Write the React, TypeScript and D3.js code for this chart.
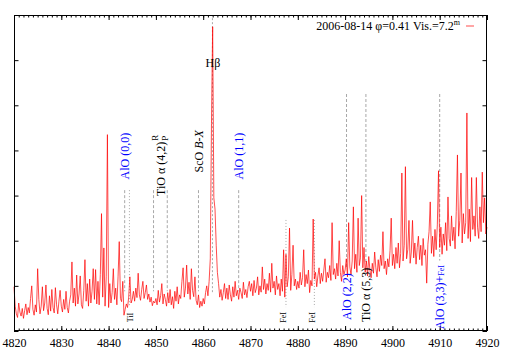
import React, { useEffect, useRef } from 'react';
import * as d3 from 'd3';

// spectrum, one value every 0.25 A from 4820 to 4920
const lambdaStart = 4820;
const lambdaStep = 0.25;
const flux = [
  0.98, 0.55, 0.38, 0.30, 0.62, 0.42, 0.33, 0.50, 0.28, 0.45, 0.60, 0.36, 0.52, 0.40, 0.72, 1.00, 0.48, 0.35, 0.58, 0.42,
  1.38, 0.70, 0.38, 0.55, 0.98, 0.45, 0.62, 1.02, 0.50, 0.36, 0.78, 0.44, 0.92, 0.52, 0.40, 0.96, 0.58, 0.38, 0.66, 0.90,
  0.55, 0.42, 0.70, 0.48, 0.88, 0.52, 0.40, 0.66, 0.80, 1.53, 0.62, 0.95, 0.55, 1.24, 0.60, 0.82, 1.22, 0.58, 0.50, 0.90,
  1.58, 0.66, 1.05, 0.55, 1.15, 0.62, 0.88, 1.38, 0.70, 1.36, 0.60, 1.10, 0.58, 1.25, 2.60, 0.75, 1.84, 0.55, 1.20, 4.35,
  0.52, 1.05, 0.62, 0.85, 1.38, 0.70, 0.95, 0.58, 1.20, 1.98, 0.72, 0.65, 1.10, 0.35, 0.48, 0.60, 0.52, 0.75, 1.20, 0.62,
  0.70, 0.88, 0.66, 0.95, 0.74, 1.28, 0.80, 0.68, 0.92, 1.10, 0.72, 0.85, 1.02, 0.70, 0.82, 0.64, 0.75, 0.56, 0.66, 0.62,
  0.72, 0.58, 0.90, 0.64, 0.78, 1.05, 0.60, 0.82, 0.70, 0.55, 0.85, 0.62, 0.92, 0.58, 0.76, 0.50, 0.88, 0.66, 0.98, 0.60,
  0.80, 0.72, 1.10, 1.40, 0.75, 0.95, 1.46, 0.82, 1.08, 0.70, 1.38, 0.90, 0.76, 1.20, 0.68, 0.58, 0.80, 0.52, 0.66, 0.55,
  0.72, 0.60, 0.85, 1.00, 0.78, 1.10, 1.60, 4.60, 6.74, 2.95, 2.70, 1.90, 1.30, 1.05, 0.75, 0.92, 0.68, 0.85, 1.05, 0.72,
  0.95, 0.70, 1.02, 0.80, 0.66, 0.98, 0.75, 1.10, 0.78, 0.90, 0.70, 0.95, 0.85, 0.72, 1.08, 0.80, 0.92, 0.74, 0.98, 1.10,
  0.88, 1.05, 0.78, 1.12, 0.85, 0.95, 1.20, 0.80, 1.00, 0.86, 1.42, 0.92, 1.15, 0.82, 1.05, 0.90, 1.28, 0.86, 1.50, 0.95,
  1.10, 0.80, 1.22, 0.92, 1.05, 0.78, 1.15, 0.88, 1.80, 0.75, 1.70, 0.98, 1.20, 2.28, 0.90, 1.25, 1.90, 1.00, 1.15, 0.92,
  1.10, 0.95, 1.30, 1.02, 1.18, 1.80, 0.98, 1.25, 1.05, 1.35, 0.85, 1.12, 1.00, 2.48, 1.15, 1.30, 0.98, 1.22, 1.40, 1.05,
  1.28, 1.10, 1.35, 1.60, 1.08, 1.30, 1.18, 1.45, 1.12, 2.40, 1.25, 1.38, 1.15, 1.50, 1.22, 2.00, 1.30, 1.10, 1.45, 1.25,
  1.35, 1.60, 1.20, 2.40, 1.42, 1.25, 1.55, 2.75, 1.38, 1.70, 1.30, 2.50, 1.45, 1.62, 3.00, 1.40, 1.85, 1.30, 1.55, 1.22,
  1.65, 1.35, 1.18, 1.50, 1.28, 1.75, 1.40, 1.20, 1.58, 1.32, 1.68, 1.45, 2.20, 1.38, 1.55, 1.25, 1.60, 1.42, 1.78, 2.50,
  1.45, 1.70, 1.38, 1.85, 1.50, 1.95, 1.40, 1.72, 3.50, 1.55, 1.90, 3.64, 1.60, 1.80, 2.45, 1.50, 1.75, 2.45, 1.62, 1.95,
  1.48, 1.85, 2.10, 1.58, 1.90, 1.45, 2.05, 1.68, 1.80, 1.06, 1.92, 2.20, 2.86, 1.72, 2.10, 1.65, 2.25, 1.80, 2.35, 3.55,
  1.85, 2.30, 1.70, 2.15, 1.90, 2.40, 1.78, 2.97, 2.05, 1.88, 2.55, 2.00, 2.30, 1.82, 2.65, 3.90, 2.10, 2.45, 3.50, 1.95,
  2.60, 2.15, 2.40, 4.83, 2.05, 2.70, 1.98, 3.40, 2.25, 2.55, 2.10, 3.40, 2.30, 2.05, 2.75, 2.20, 3.52, 2.40, 2.95, 2.15,
  2.30,
];

const xTicks = [4820, 4830, 4840, 4850, 4860, 4870, 4880, 4890, 4900, 4910, 4920];
const yTicks = [0, 1, 2, 3, 4, 5, 6, 7];

const legendText = '2006-08-14 φ=0.41 Vis.=7.2';
const legendSup = 'm';

// molecular band heads labelled above the spectrum
const upperBandLines = [4843.4, 4849.5, 4852.4, 4859.0, 4867.5];
const upperLabels = ['AlO (0,0)', 'TiO α (4,2)', 'ScO B-X', 'AlO (1,1)'];
const upperLabelLam = [4843.4, 4851.0, 4859.1, 4867.5];
const upperLabelTop = [4.39, 4.39, 4.45, 4.39];

// band heads labelled below
const lowerBandLines = [4890.3, 4894.4, 4910.0];
const lowerLabels = ['AlO (2,2)', 'TiO α (5,3)', 'AlO (3,3)+FeI'];
const lowerLabelTop = [1.28, 1.4, 1.46];

// atomic lines
const atomLines = [4844.4, 4877.5, 4883.5];
const atomLabels = ['TiI', 'FeI', 'FeI'];
const atomLabelLam = [4844.55, 4877.0, 4882.95];
const atomLineTop = [3.12, 2.46, 2.46];

const hBeta = 4861.95;

export default function App() {
  const ref = useRef<SVGSVGElement>(null);

  useEffect(() => {
    const svg = d3.select(ref.current);
    svg.selectAll('*').remove();
    const font = "'Liberation Serif', 'Times New Roman', serif";
    const blue = '#0000ff';
    const grey = '#a8a8a8';

    const x = d3.scaleLinear().domain([4820, 4920]).range([14, 487]);
    const y = d3.scaleLinear().domain([0, 7]).range([331, 15]);

    svg.append('rect').attr('width', 509).attr('height', 356).attr('fill', '#fff');

    // guide lines
    const g = svg.append('g').attr('stroke', grey).attr('stroke-width', 1).attr('fill', 'none');
    upperBandLines.forEach((l) => {
      g.append('line').attr('x1', x(l)).attr('x2', x(l)).attr('y1', y(3.12)).attr('y2', y(0.88))
        .attr('stroke-dasharray', '3,2');
    });
    g.append('line').attr('x1', x(hBeta)).attr('x2', x(hBeta)).attr('y1', y(6.93)).attr('y2', y(0.84))
      .attr('stroke-dasharray', '2,2');
    lowerBandLines.forEach((l, i) => {
      g.append('line').attr('x1', x(l)).attr('x2', x(l)).attr('y1', y(5.25)).attr('y2', y(lowerLabelTop[i] + 0.1))
        .attr('stroke-dasharray', '3,2');
    });
    atomLines.forEach((l, i) => {
      g.append('line').attr('x1', x(l)).attr('x2', x(l)).attr('y1', y(atomLineTop[i])).attr('y2', y(0.53))
        .attr('stroke-dasharray', '1,2');
    });

    // spectrum
    const line = d3.line<number>()
      .x((d, i) => x(lambdaStart + i * lambdaStep))
      .y((d) => y(d));
    svg.append('path').datum(flux).attr('d', line).attr('fill', 'none')
      .attr('stroke', '#ff0000').attr('stroke-width', 0.7).attr('stroke-linejoin', 'round');

    // frame and ticks
    svg.append('rect').attr('x', 14.5).attr('y', 15.5).attr('width', 472).attr('height', 315)
      .attr('fill', 'none').attr('stroke', '#000').attr('stroke-width', 1);

    const minor = d3.range(4820, 4921, 1);
    const bottom = svg.append('g').attr('transform', 'translate(0,331)')
      .call(d3.axisBottom(x).tickValues(xTicks).tickSizeInner(-5).tickSizeOuter(0).tickPadding(7).tickFormat(d3.format('d')));
    bottom.attr('font-family', font).attr('font-size', 12);
    bottom.selectAll('text').attr('fill', '#000');
    svg.append('g').attr('transform', 'translate(0,331)')
      .call(d3.axisBottom(x).tickValues(minor).tickSizeInner(-2.5).tickSizeOuter(0).tickFormat(() => ''));
    svg.append('g').attr('transform', 'translate(0,15)')
      .call(d3.axisTop(x).tickValues(xTicks).tickSizeInner(-5).tickSizeOuter(0).tickFormat(() => ''));
    svg.append('g').attr('transform', 'translate(0,15)')
      .call(d3.axisTop(x).tickValues(minor).tickSizeInner(-2.5).tickSizeOuter(0).tickFormat(() => ''));
    svg.append('g').attr('transform', 'translate(14,0)')
      .call(d3.axisLeft(y).tickValues(yTicks).tickSizeInner(-4.5).tickSizeOuter(0).tickFormat(() => ''));
    svg.append('g').attr('transform', 'translate(487,0)')
      .call(d3.axisRight(y).tickValues(yTicks).tickSizeInner(-4.5).tickSizeOuter(0).tickFormat(() => ''));
    svg.selectAll('.domain').remove();
    svg.selectAll('.tick line').attr('stroke', '#000');

    // legend
    const leg = svg.append('text').attr('x', 460).attr('y', 30).attr('text-anchor', 'end')
      .attr('font-family', font).attr('font-size', 12).attr('fill', '#000');
    leg.append('tspan').text(legendText);
    leg.append('tspan').attr('font-size', 8).attr('dy', -5).text(legendSup);
    svg.append('line').attr('x1', 466).attr('x2', 474).attr('y1', 26).attr('y2', 26)
      .attr('stroke', '#ff0000').attr('stroke-width', 0.7);

    // H beta
    svg.append('text').attr('x', x(hBeta) + 0.5).attr('y', y(5.85)).attr('text-anchor', 'middle')
      .attr('font-family', font).attr('font-size', 12).text('Hβ');

    const vlabel = (lam: number, top: number, color: string) =>
      svg.append('g').attr('transform', `translate(${x(lam)},${y(top)}) rotate(-90)`)
        .attr('font-family', font).attr('fill', color);

    upperLabels.forEach((t, i) => {
      const color = t.startsWith('AlO') ? blue : '#000';
      const grp = vlabel(upperLabelLam[i], upperLabelTop[i], color);
      if (t.startsWith('TiO')) {
        grp.append('text').attr('x', -9).attr('dy', '0.35em').attr('text-anchor', 'end').attr('font-size', 12).text(t);
        grp.append('text').attr('x', -8).attr('y', -3).attr('font-size', 9).text('R');
        grp.append('text').attr('x', -8).attr('y', 7).attr('font-size', 9).text('P');
      } else if (t.startsWith('ScO')) {
        const tx = grp.append('text').attr('dy', '0.35em').attr('text-anchor', 'end').attr('font-size', 12);
        tx.append('tspan').text('ScO ');
        tx.append('tspan').attr('font-style', 'italic').text('B-X');
      } else {
        grp.append('text').attr('dy', '0.35em').attr('text-anchor', 'end').attr('font-size', 12).text(t);
      }
    });

    lowerLabels.forEach((t, i) => {
      const color = t.startsWith('AlO') ? blue : '#000';
      const grp = vlabel(lowerBandLines[i], lowerLabelTop[i], color);
      const tx = grp.append('text').attr('dy', '0.35em').attr('text-anchor', 'end').attr('font-size', 12);
      if (t.endsWith('+FeI')) {
        tx.append('tspan').text(t.replace('FeI', ''));
        tx.append('tspan').attr('font-size', 8).text('FeI');
      } else {
        tx.text(t);
      }
    });

    atomLabels.forEach((t, i) => {
      const grp = vlabel(atomLabelLam[i], 0.3, '#000');
      grp.append('text').attr('dy', '0.35em').attr('text-anchor', 'middle').attr('font-size', 8).text(t);
    });
  }, []);

  return (
    <svg ref={ref} width={509} height={356}
      style={{ position: 'absolute', left: 0, top: 0, display: 'block' }} />
  );
}
